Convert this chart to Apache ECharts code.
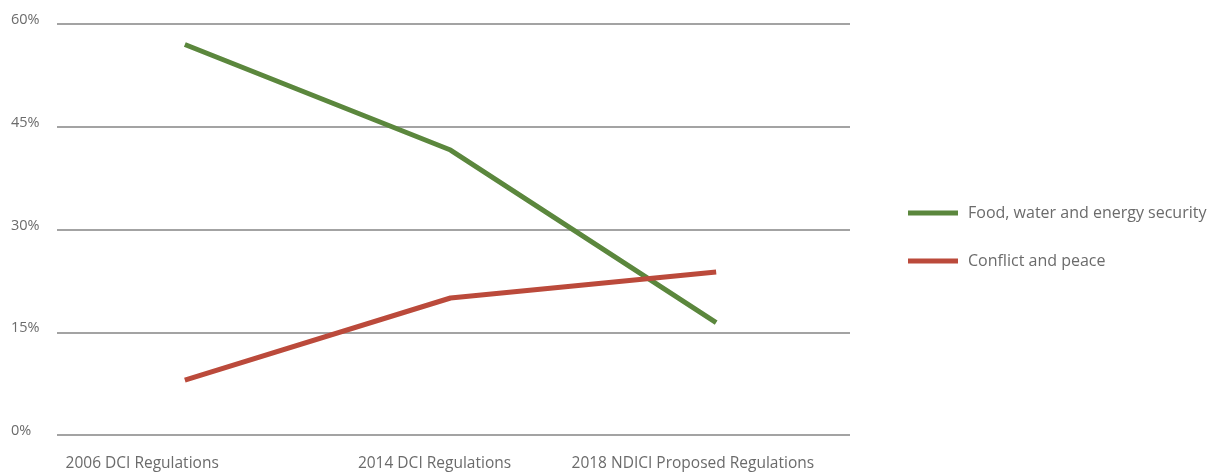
<!DOCTYPE html>
<html>
<head>
<meta charset="utf-8">
<script src="https://cdn.jsdelivr.net/npm/echarts@6/dist/echarts.min.js"></script>
<style>
  html, body { margin: 0; padding: 0; background: #fff; }
  #chart { width: 1218px; height: 473px; }
</style>
</head>
<body>
<div id="chart"></div>
<script>
// Share of funding priorities across regulation versions (%)
const categories = ['2006 DCI Regulations', '2014 DCI Regulations', '2018 NDICI Proposed Regulations'];
const foodWaterEnergy = [57, 41.6, 16.4];
const conflictPeace = [8, 20, 23.8];
const yTicks = [0, 15, 30, 45, 60];

// Per-label horizontal nudge (px, negative = left) for the category labels
const labelShift = [-47, -19, -25];

const textColor = '#6b6b6b';
const fontFamily = '"Open Sans", "Noto Sans", sans-serif';

const rich = {};
labelShift.forEach((s, i) => {
  rich['c' + i] = {
    fontSize: 15.5, color: textColor, fontFamily,
    padding: s < 0 ? [0, -2 * s, 0, 0] : [0, 0, 0, 2 * s]
  };
});

const yMin = yTicks[0];
const yMax = yTicks[yTicks.length - 1];

const chart = echarts.init(document.getElementById('chart'));
chart.setOption({
  animation: false,
  backgroundColor: '#ffffff',
  grid: [
    // frame: gridlines, tick labels, category labels
    { left: 57, right: 368, top: 24, bottom: 38 },
    // plotting area for the lines
    { left: 52, right: 369, top: 24, bottom: 38 }
  ],
  legend: {
    orient: 'vertical',
    left: 908,
    top: 205,
    padding: 0,
    icon: 'rect',
    itemWidth: 50,
    itemHeight: 5,
    itemGap: 32,
    textStyle: { fontSize: 16, color: textColor, fontFamily, padding: [0, 0, 0, 5] },
    data: ['Food, water and energy security', 'Conflict and peace']
  },
  xAxis: [
    {
      type: 'category',
      gridIndex: 0,
      data: categories,
      boundaryGap: true,
      axisLine: { show: false },
      axisTick: { show: false },
      axisLabel: {
        margin: 21,
        interval: 0,
        formatter: (v, i) => '{c' + i + '|' + v + '}',
        rich
      }
    },
    {
      type: 'category',
      gridIndex: 1,
      data: categories,
      boundaryGap: true,
      show: false
    }
  ],
  yAxis: [
    {
      type: 'value',
      gridIndex: 0,
      min: yMin,
      max: yMax,
      interval: 15,
      axisLine: { show: false },
      axisTick: { show: false },
      axisLabel: {
        formatter: '{value}%',
        align: 'left',
        verticalAlign: 'bottom',
        lineHeight: 8,
        margin: 46,
        fontSize: 14.5,
        color: textColor,
        fontFamily
      },
      splitLine: { lineStyle: { color: '#a3a3a3', width: 2 } }
    },
    {
      type: 'value',
      gridIndex: 1,
      min: yMin,
      max: yMax,
      interval: 15,
      show: false,
      splitLine: { show: false }
    }
  ],
  series: [
    {
      name: 'Food, water and energy security',
      type: 'line',
      xAxisIndex: 1,
      yAxisIndex: 1,
      data: foodWaterEnergy,
      symbol: 'none',
      color: '#5b873d',
      lineStyle: { width: 5, color: '#5b873d' }
    },
    {
      name: 'Conflict and peace',
      type: 'line',
      xAxisIndex: 1,
      yAxisIndex: 1,
      data: conflictPeace,
      symbol: 'none',
      color: '#bb4a3b',
      lineStyle: { width: 5, color: '#bb4a3b' }
    }
  ]
});
</script>
</body>
</html>
